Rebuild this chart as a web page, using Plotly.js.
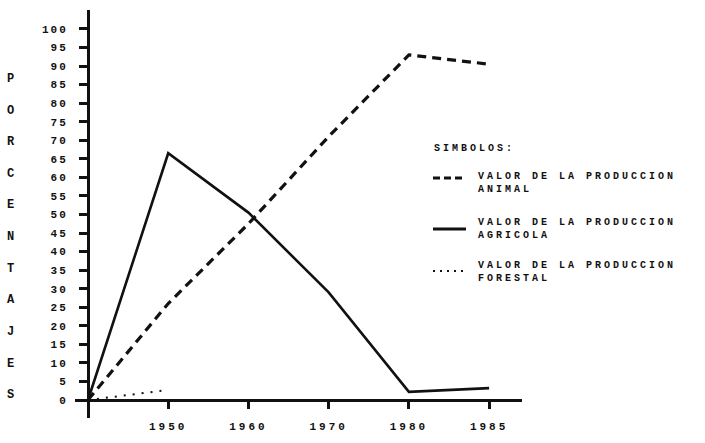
<!DOCTYPE html>
<html><head><meta charset="utf-8">
<script src="https://cdn.plot.ly/plotly-3.0.1.min.js"></script>
<style>
html,body{margin:0;padding:0;background:#fff;}
#chart{width:705px;height:443px;}
.xtick text{letter-spacing:3px;}
.ytick text{letter-spacing:2px;}
.annotation-text{letter-spacing:3px;}
</style></head><body><div id="chart"></div>
<script>
// ---- data ----
const xPos = [0, 1, 2, 3, 4, 5];
const yearTickPos = [1, 2, 3, 4, 5];
const yearLabels = ['1950', '1960', '1970', '1980', '1985'];
const animal = [0, 26, 47.5, 71, 93, 90.5];
const agricola = [0, 66.5, 50.5, 29, 2.2, 3.2];
const forestalX = [0, 1];
const forestal = [0, 2.7];
const yTicks = [0, 5, 10, 15, 20, 25, 30, 35, 40, 45, 50, 55, 60, 65, 70, 75, 80, 85, 90, 95, 100];
const yTitleLetters = ['P', 'O', 'R', 'C', 'E', 'N', 'T', 'A', 'J', 'E', 'S'];
const legendTitle = 'SIMBOLOS:';
const legendLabels = ['VALOR DE LA PRODUCCION<br>ANIMAL', 'VALOR DE LA PRODUCCION<br>AGRICOLA', 'VALOR DE LA PRODUCCION<br>FORESTAL'];
const legendDash = ['dash', 'solid', 'dot'];

// ---- geometry helpers (pixel -> paper) ----
const W = 705, H = 443, mL = 75, mR = 183, mT = 10, mB = 25;
const pw = W - mL - mR, ph = H - mT - mB;
const px = p => (p - mL) / pw;
const py = p => (H - mB - p) / ph;

const ink = '#111';
const mono = 'Liberation Mono, DejaVu Sans Mono, monospace';

const traces = [
  {x: xPos, y: animal, mode: 'lines', line: {color: ink, width: 3.2, dash: '9px,6px'}, hoverinfo: 'skip'},
  {x: xPos, y: agricola, mode: 'lines', line: {color: ink, width: 2.6}, hoverinfo: 'skip'},
  {x: forestalX, y: forestal, mode: 'lines', line: {color: ink, width: 2, dash: '2px,7px'}, hoverinfo: 'skip'}
];

const annotations = [];
const shapes = [];
const step = (86.5 - 1.3) / (yTitleLetters.length - 1);
yTitleLetters.forEach((ch, i) => {
  annotations.push({xref: 'paper', yref: 'y', x: px(12), y: 86.5 - i * step, text: ch, showarrow: false,
    xanchor: 'center', yanchor: 'middle', font: {family: mono, size: 12, color: ink, weight: 'bold'}});
});
annotations.push({xref: 'paper', yref: 'paper', x: px(432), y: py(148), text: legendTitle, showarrow: false,
  xanchor: 'left', yanchor: 'middle', font: {family: mono, size: 10, color: ink, weight: 'bold'}});
const rowY = [183, 229, 272];
const sampleY = [178, 229, 271];
legendLabels.forEach((t, i) => {
  annotations.push({xref: 'paper', yref: 'paper', x: px(476), y: py(rowY[i]), text: t, showarrow: false,
    xanchor: 'left', yanchor: 'middle', align: 'left', font: {family: mono, size: 10, color: ink, weight: 'bold'}});
  shapes.push({type: 'line', xref: 'paper', yref: 'paper', x0: px(433), x1: px(466), y0: py(sampleY[i]), y1: py(sampleY[i]),
    line: {color: ink, width: legendDash[i] === 'dot' ? 2 : 3, dash: legendDash[i] === 'dash' ? '7px,4px' : (legendDash[i] === 'dot' ? '2px,5px' : 'solid')}});
});

const layout = {
  width: W, height: H,
  margin: {l: mL, r: mR, t: mT, b: mB},
  paper_bgcolor: '#fff', plot_bgcolor: '#fff',
  showlegend: false,
  xaxis: {range: [-0.162, 5.41], anchor: 'free', position: py(400), showline: true, linewidth: 3, linecolor: ink,
    ticks: 'outside', ticklen: 7, tickwidth: 3, tickcolor: ink, tickvals: yearTickPos, ticktext: yearLabels,
    showgrid: false, zeroline: false, ticklabelstandoff: 8,
    tickfont: {family: mono, size: 11, color: ink, weight: 'bold'}},
  yaxis: {range: [-4.85, 105.1], anchor: 'free', position: px(88), showline: true, linewidth: 3, linecolor: ink,
    ticks: 'outside', ticklen: 8, tickwidth: 3, tickcolor: ink, tickvals: yTicks,
    showgrid: false, zeroline: false, ticklabelstandoff: 9,
    tickfont: {family: mono, size: 11, color: ink, weight: 'bold'}},
  annotations: annotations,
  shapes: shapes
};

Plotly.newPlot('chart', traces, layout, {staticPlot: true, displayModeBar: false});
</script></body></html>
